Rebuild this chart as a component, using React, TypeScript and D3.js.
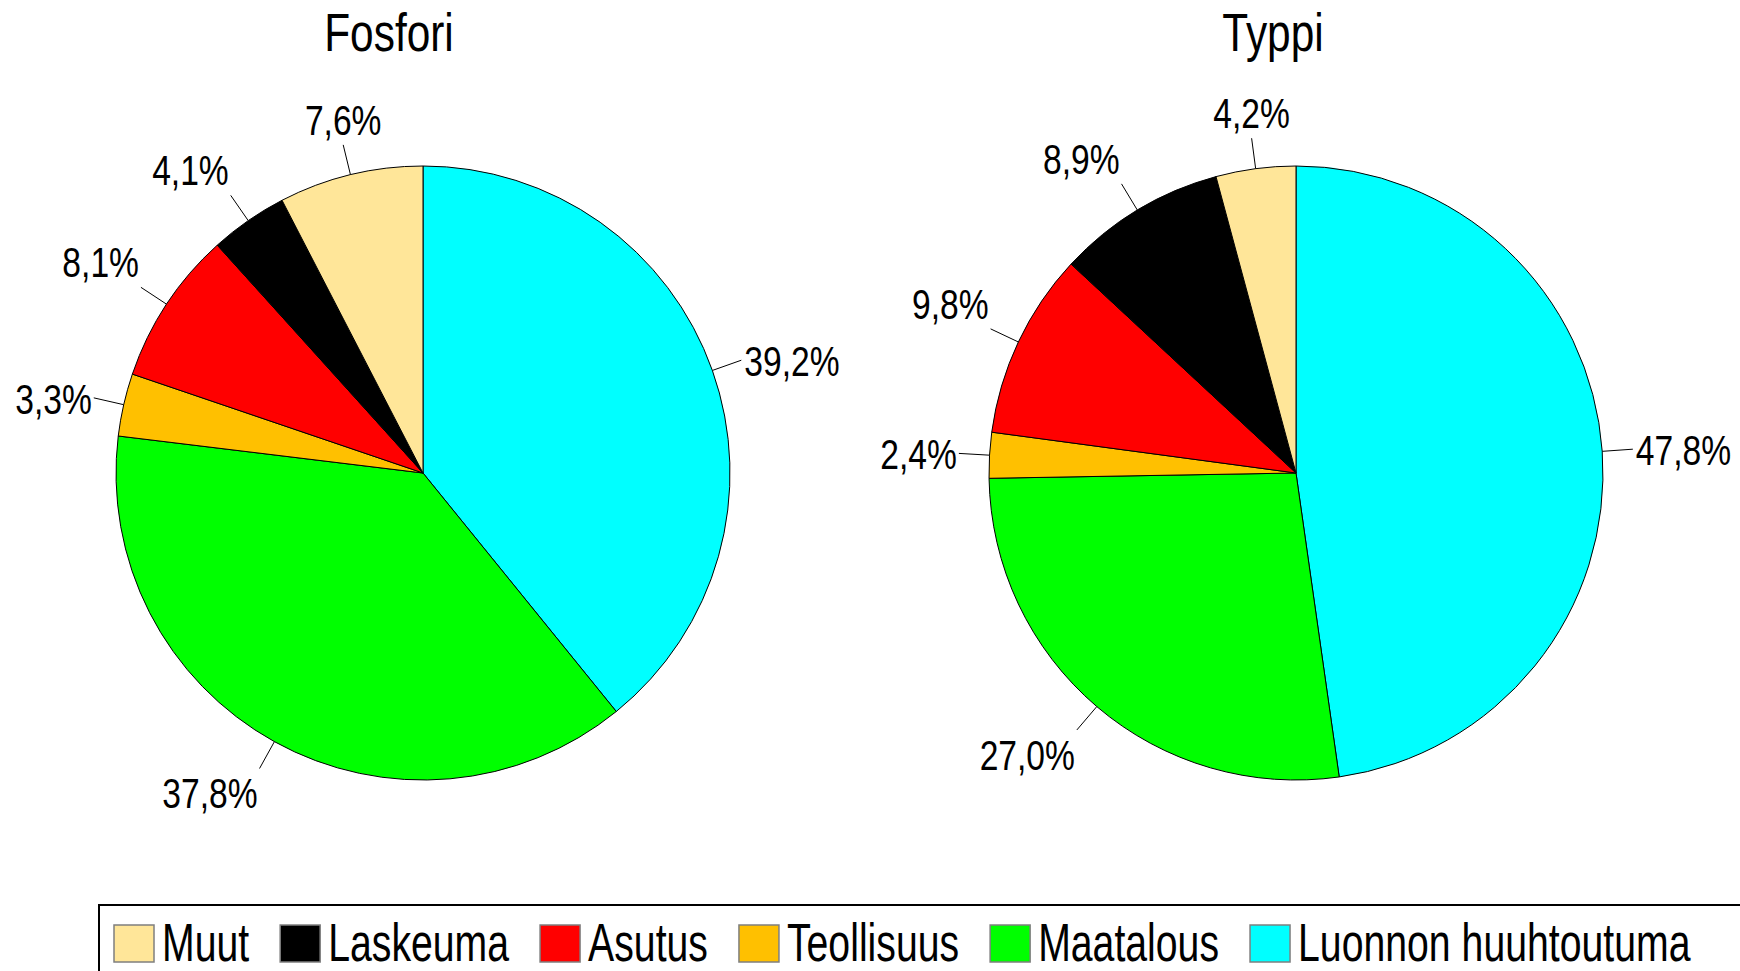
import React from "react";
import * as d3 from "d3";

// data
const categories = ["Muut", "Laskeuma", "Asutus", "Teollisuus", "Maatalous", "Luonnon huuhtoutuma"];
const colors = ["#FFE699", "#000000", "#FF0000", "#FFC000", "#00FF00", "#00FFFF"];
const fosfori = [7.6, 4.1, 8.1, 3.3, 37.8, 39.2];
const typpi = [4.2, 8.9, 9.8, 2.4, 27.0, 47.8];
const titles = ["Fosfori", "Typpi"];

const W = 1740;
const H = 971;
const FONT = "'Liberation Sans', Arial, sans-serif";

type Slice = { name: string; value: number; color: string };

function scaledText(g: any, x: number, y: number, txt: string, size: number, sx: number, anchor: string) {
  return g
    .append("text")
    .attr("transform", `translate(${x},${y}) scale(${sx},1)`)
    .attr("text-anchor", anchor)
    .attr("font-family", FONT)
    .attr("font-size", size)
    .attr("fill", "#000")
    .text(txt);
}

function drawPie(svg: any, values: number[], title: string, cx: number, cy: number, r: number, titleX: number) {
  // clockwise from 12 o'clock: Luonnon first, Muut last
  const data: Slice[] = categories.map((c, i) => ({ name: c, value: values[i], color: colors[i] })).reverse();

  const pie = d3.pie<Slice>().sort(null).value(d => d.value);
  const arc = d3.arc<d3.PieArcDatum<Slice>>().innerRadius(0).outerRadius(r);
  const arcs = pie(data);

  const g = svg.append("g");
  scaledText(g, titleX, 51, title, 53, 0.8, "middle");

  const pg = g.append("g").attr("transform", `translate(${cx},${cy})`);
  pg.selectAll("path")
    .data(arcs)
    .join("path")
    .attr("d", arc)
    .attr("fill", d => d.data.color)
    .attr("stroke", "#000")
    .attr("stroke-width", 1);

  const th = 0.383;
  arcs.forEach(d => {
    const a = (d.startAngle + d.endAngle) / 2;
    const s = Math.sin(a);
    const c = -Math.cos(a);
    const px = s * r * 1.1;
    const py = c * r * 1.1;
    pg.append("line")
      .attr("x1", s * r)
      .attr("y1", c * r)
      .attr("x2", px)
      .attr("y2", py)
      .attr("stroke", "#000")
      .attr("stroke-width", 1);

    let anchor = "middle";
    let tx = px;
    if (s < -th) { anchor = "end"; tx = px - 2; }
    else if (s > th) { anchor = "start"; tx = px + 3; }
    let ty = py + 16;
    if (c < -th) ty = py - 10;
    else if (c > th) ty = py + 40;

    const label = d.data.value.toFixed(1).replace(".", ",") + "%";
    scaledText(pg, tx, ty, label, 42, 0.8, anchor);
  });
}

function drawLegend(svg: any) {
  const g = svg.append("g");
  g.append("rect")
    .attr("x", 99)
    .attr("y", 905)
    .attr("width", W)
    .attr("height", 200)
    .attr("fill", "#fff")
    .attr("stroke", "#000")
    .attr("stroke-width", 2);

  const sx = 0.74;
  let x = 114;
  categories.forEach((c, i) => {
    g.append("rect")
      .attr("x", x)
      .attr("y", 925)
      .attr("width", 40)
      .attr("height", 37)
      .attr("fill", colors[i])
      .attr("stroke", "#7f7f7f")
      .attr("stroke-width", 1.5);
    const t = scaledText(g, x + 48, 961, c, 53, sx, "start");
    const w = (t.node() as SVGTextElement).getComputedTextLength() * sx;
    x = x + 48 + w + 31;
  });
}

const App = () => {
  const ref = React.useRef<SVGSVGElement>(null);

  React.useEffect(() => {
    const svg = d3.select(ref.current);
    svg.selectAll("*").remove();
    svg.append("rect").attr("width", W).attr("height", H).attr("fill", "#fff");
    drawPie(svg, fosfori, titles[0], 423, 473, 307, 389);
    drawPie(svg, typpi, titles[1], 1296, 473, 307, 1273);
    drawLegend(svg);
  }, []);

  return (
    <svg
      ref={ref}
      width={W}
      height={H}
      style={{ position: "absolute", left: 0, top: 0, display: "block" }}
    />
  );
};

export default App;
